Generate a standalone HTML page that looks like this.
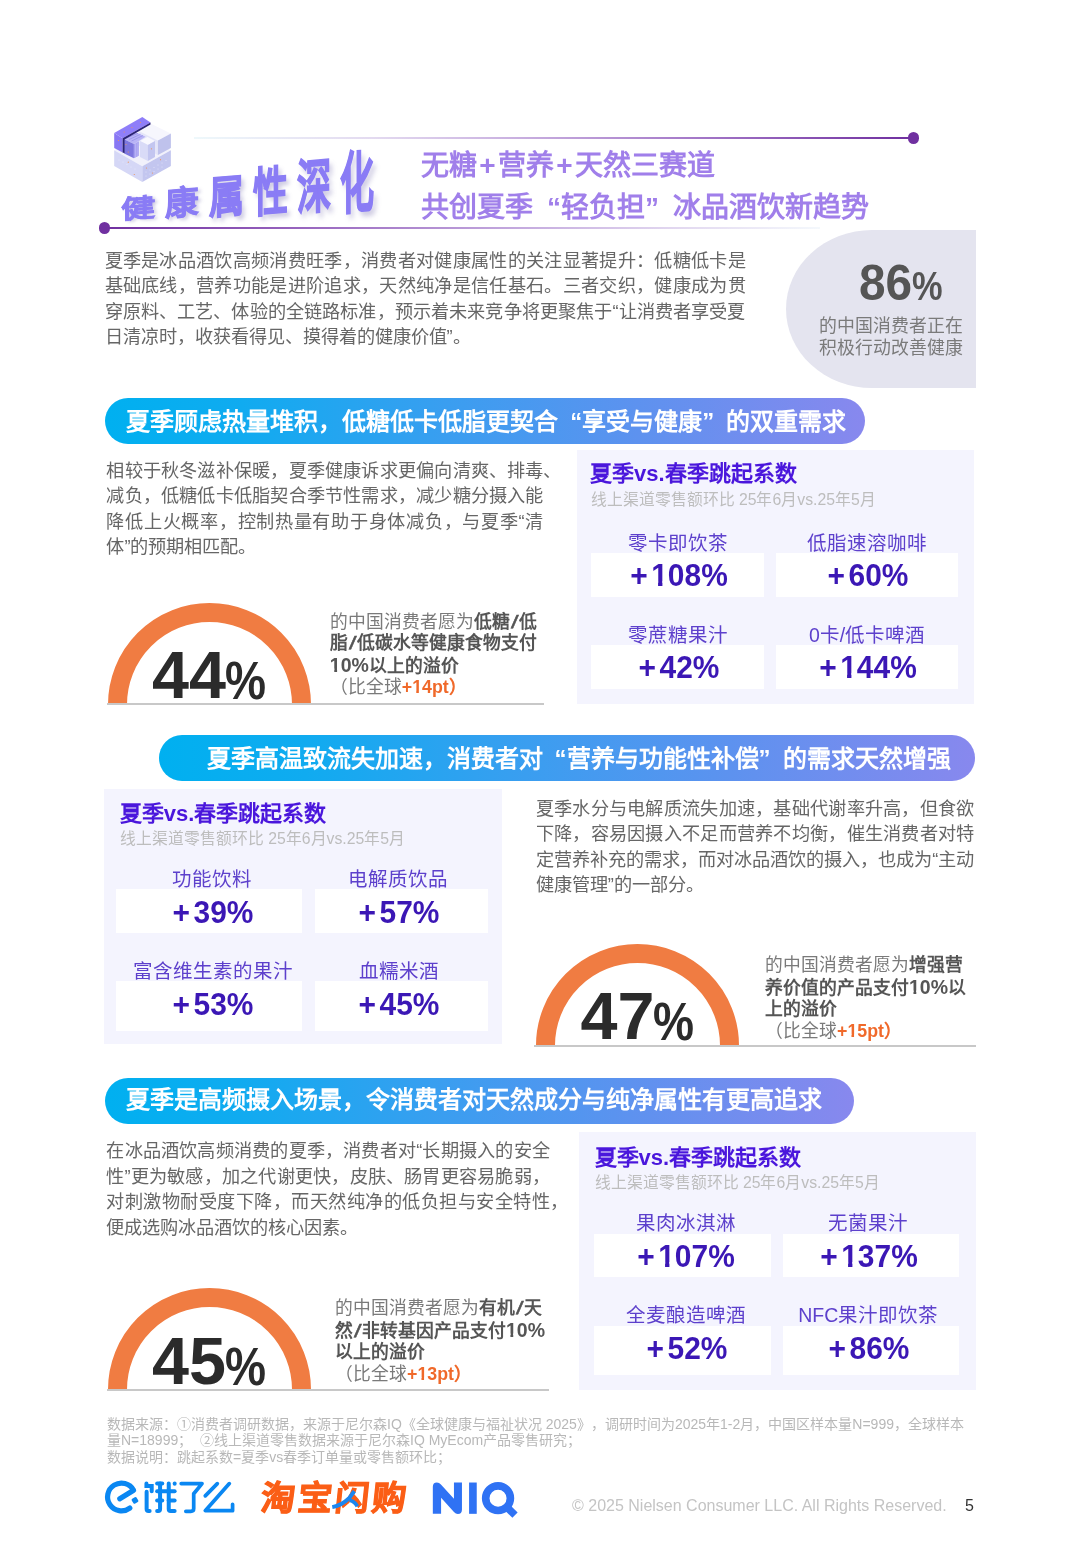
<!DOCTYPE html>
<html lang="zh-CN">
<head>
<meta charset="utf-8">
<style>
*{margin:0;padding:0;box-sizing:border-box}
html,body{width:1080px;height:1560px;background:#fff;overflow:hidden}
body{position:relative;font-family:"Liberation Sans",sans-serif;color:#5a5a5a;text-spacing-trim:space-all;will-change:transform}
.a{position:absolute;white-space:nowrap}
.p{position:absolute;font-size:18.2px;line-height:25.5px;color:#666}
.p div{white-space:nowrap;text-align:justify;text-align-last:justify}
.p div.l{text-align-last:left}
.p div.h{position:relative}
.hang{position:absolute;left:100%;top:0}
.bar{position:absolute;height:46px;border-radius:23px;background:linear-gradient(90deg,#00b0f0 0%,#10abf0 18%,#3a9ef0 45%,#5d92ef 70%,#8888ee 100%)}
.bar>span{position:absolute;top:0;font-size:24px;line-height:46px;font-weight:bold;color:#fff;white-space:nowrap}
.q{display:inline-block;width:1em}
.ql{text-align:right}
.qr{text-align:left}
.panel{position:absolute;background:#f4f4fe}
.pt{position:absolute;font-size:22px;line-height:22px;font-weight:bold;color:#4a16dc;white-space:nowrap}
.ps{position:absolute;font-size:15.8px;line-height:16px;color:#bdbdbd;white-space:nowrap}
.box{position:absolute;background:#fff}
.lab{position:absolute;font-size:19.5px;line-height:20px;color:#5d40cc;white-space:nowrap;text-align:center;width:240px}
.val{position:absolute;font-size:31.5px;line-height:30px;font-weight:bold;color:#3b17b5;white-space:nowrap;text-align:center;width:240px;transform:scaleX(.95)}
.gauge{position:absolute;width:203px;height:102px;overflow:hidden}
.gauge div{position:absolute;left:0;top:0;width:203px;height:203px;border-radius:50%;border:19.5px solid #f07c42}
.gnum{position:absolute;font-weight:bold;color:#2b2b2b;white-space:nowrap;font-size:66.5px;line-height:64px}
.gnum span{display:inline-block;font-size:53px;transform:scaleX(.87);transform-origin:0 100%;margin-left:-1px;vertical-align:-1px}
.gt{position:absolute;font-size:17.8px;line-height:21.6px;color:#7a7a7a;white-space:nowrap}
.gt b{color:#555;font-weight:bold}
.gt i{font-style:normal;color:#f0692a;font-weight:bold}
.hl{position:absolute;height:2px;background:#c8c8c8}
.pl{margin-right:3.7px}
.sl{display:inline-block;margin:0 2px;transform:skewX(-14deg);-webkit-text-stroke:0.5px #555}
.d{font-size:19.5px}
.one{display:inline-block;line-height:1em;clip-path:polygon(-0.1em -0.5em,0.7em -0.5em,0.7em 0.66em,0.374em 0.66em,0.374em 1.2em,0.229em 1.2em,0.229em 0.66em,-0.1em 0.66em)}
</style>
</head>
<body>

<!-- ===== HEADER ===== -->
<!-- top line -->
<div class="a" style="left:194px;top:137.2px;width:716px;height:2px;background:linear-gradient(90deg,#eef8fb 0%,#e3daf0 25%,#c9b0e0 45%,#a478c8 70%,#7030a0 100%)"></div>
<div class="a" style="left:907.8px;top:132.4px;width:11.6px;height:11.6px;border-radius:50%;background:#7030a0"></div>
<!-- bottom line -->
<div class="a" style="left:104px;top:227.2px;width:716px;height:2px;background:linear-gradient(90deg,#7030a0 0%,#9460bc 25%,#c0a4dc 55%,#e2d8f0 80%,#f4f8fc 100%)"></div>
<div class="a" style="left:98.8px;top:222.4px;width:11.6px;height:11.6px;border-radius:50%;background:#7030a0"></div>

<!-- cube icon -->
<svg class="a" style="left:108px;top:112px" width="70" height="75" viewBox="108 112 70 75">
  <polygon points="114.2,150.2 142.3,134.1 170.9,150.2 142.3,166.3" fill="#f1f1fb"/>
  <polygon points="114.2,150.2 142.3,166.3 142.3,182 114.2,166" fill="#d5d7f6"/>
  <polygon points="142.3,166.3 170.9,150.2 170.9,166 142.3,182" fill="#c3c6ef"/>
  <g fill="#eef0fd" opacity="0.8">
    <circle cx="119" cy="160" r="0.5"/><circle cx="123" cy="162" r="0.5"/><circle cx="127" cy="164.5" r="0.5"/><circle cx="131" cy="167" r="0.5"/><circle cx="135" cy="169" r="0.5"/>
    <circle cx="146" cy="172" r="0.5"/><circle cx="150" cy="170" r="0.5"/><circle cx="154" cy="167.5" r="0.5"/><circle cx="158" cy="165" r="0.5"/><circle cx="162" cy="163" r="0.5"/><circle cx="166" cy="160.5" r="0.5"/>
    <circle cx="146" cy="176" r="0.5"/><circle cx="150" cy="174" r="0.5"/><circle cx="154" cy="171.5" r="0.5"/><circle cx="158" cy="169" r="0.5"/><circle cx="162" cy="167" r="0.5"/>
  </g>
  <polygon points="138.5,130.8 150.4,123.5 170.9,133.4 157.9,140.5" fill="#f6f6fd"/>
  <polygon points="138.5,130.8 157.9,140.5 157.9,155.1 138.5,145.4" fill="#e4e5f9"/>
  <polygon points="157.9,140.5 170.9,133.4 170.9,148 157.9,155.1" fill="#bfc2ec"/>
  <polygon points="140,141 147.5,137 155,141 147.9,145" fill="#f8f8fe"/>
  <polygon points="140,141 147.9,145 147.9,161 140,157" fill="#d9dbf7"/>
  <polygon points="147.9,145 155,141 155,157 147.9,161" fill="#c3c6f0"/>
  <polygon points="124.2,139.2 136.5,132.5 145.6,136.8 133.9,144" fill="#b9b4f6"/>
  <g stroke="#8d86e6" stroke-width="0.6"><line x1="126.5" y1="138" x2="138" y2="133.3"/><line x1="129" y1="139.5" x2="140.5" y2="134.3"/><line x1="131.5" y1="141" x2="143" y2="135.5"/></g>
  <polygon points="124.2,139.2 133.9,144 133.9,158.3 124.2,153.5" fill="#7e77df"/>
  <polygon points="133.9,144 138.8,141.3 138.8,155.8 133.9,158.3" fill="#a49ef0"/>
  <g stroke="#c9c5f8" stroke-width="0.5"><line x1="135.5" y1="143" x2="135.5" y2="157.5"/><line x1="137.2" y1="142.2" x2="137.2" y2="156.7"/></g>
  <polygon points="114.2,133.1 122.6,138.2 122.6,152.5 114.2,148" fill="#8877f3"/>
  <polygon points="114.2,133.1 142.3,116.9 150.5,122.4 122.6,138.2" fill="#8f7ef9"/>
  <polygon points="122.6,138.2 150.5,122.4 150.5,124.6 124.6,139.4 124.6,153.3 122.6,152.5" fill="#2b2377"/>
  <g fill="#f0955a"><circle cx="118.5" cy="140.5" r="0.6"/><circle cx="124.2" cy="132" r="0.6"/><circle cx="132" cy="127.5" r="0.6"/><circle cx="140.5" cy="122.5" r="0.6"/><circle cx="126" cy="144.5" r="0.6"/><circle cx="128.3" cy="152" r="0.6"/><circle cx="151.5" cy="148.8" r="0.6"/><circle cx="128.3" cy="162.2" r="0.6"/><circle cx="160.5" cy="159.7" r="0.6"/><circle cx="146.5" cy="168" r="0.6"/><circle cx="152.5" cy="173" r="0.6"/><circle cx="134.3" cy="174.5" r="0.6"/></g>
</svg>

<!-- big title chars -->
<div id="bigtitle">
<span class="a bt" style="left:120.8px;top:196.5px;transform:skewY(-5deg) scale(0.924,0.695)">健</span>
<span class="a bt" style="left:165.0px;top:188.3px;transform:skewY(-5deg) scale(0.908,0.897)">康</span>
<span class="a bt" style="left:209.4px;top:177.3px;transform:skewY(-5deg) scale(0.95,1.199)">属</span>
<span class="a bt" style="left:252.5px;top:168.1px;transform:skewY(-5deg) scale(0.94,1.42)">性</span>
<span class="a bt" style="left:297.3px;top:159.7px;transform:skewY(-5deg) scale(0.919,1.593)">深</span>
<span class="a bt" style="left:340.1px;top:151.8px;transform:skewY(-5deg) scale(0.918,1.796)">化</span>
</div>
<style>.bt{font-size:37px;line-height:37px;transform-origin:0 0;font-weight:bold;color:#8a7cf5;-webkit-text-stroke:0.9px #8a7cf5;text-shadow:3px 3px 4px rgba(110,100,170,0.35)}</style>

<!-- headline right -->
<div class="a" style="left:421px;top:149px;font-size:28px;line-height:34px;font-weight:bold;color:#a07fea">无糖<span style="display:inline-block;width:21px;text-align:center">+</span>营养<span style="display:inline-block;width:21px;text-align:center">+</span>天然三赛道</div>
<div class="a" style="left:421px;top:191px;font-size:28px;line-height:34px;font-weight:bold;color:#a07fea">共创夏季<span class="q ql">“</span>轻负担<span class="q qr">”</span>冰品酒饮新趋势</div>

<!-- intro paragraph -->
<div class="p" style="left:104.5px;top:248.5px;width:641px">
<div>夏季是冰品酒饮高频消费旺季，消费者对健康属性的关注显著提升：低糖低卡是</div>
<div>基础底线，营养功能是进阶追求，天然纯净是信任基石。三者交织，健康成为贯</div>
<div>穿原料、工艺、体验的全链路标准，预示着未来竞争将更聚焦于“让消费者享受夏</div>
<div class="l">日清凉时，收获看得见、摸得着的健康价值”。</div>
</div>

<!-- 86% shape -->
<div class="a" style="left:786px;top:229.5px;width:190px;height:158.5px;background:#e4e4ef;border-radius:86px 0 0 86px / 79px 0 0 79px"></div>
<div class="a" style="left:858.5px;top:258px;font-size:49.5px;line-height:50px;font-weight:bold;color:#555"><span style="display:inline-block;transform:scaleX(.965);transform-origin:0 100%">86</span><span style="display:inline-block;font-size:40px;transform:scaleX(.86);transform-origin:0 100%;margin-left:-2px">%</span></div>
<div class="a" style="left:819px;top:315px;font-size:17.9px;line-height:22.2px;color:#7a7a7a">的中国消费者正在<br>积极行动改善健康</div>

<!-- ===== SECTION 1 ===== -->
<div class="bar" style="left:105.2px;top:397.8px;width:759.8px"><span style="left:21.1px;top:1.1px">夏季顾虑热量堆积，低糖低卡低脂更契合<span class="q ql">“</span>享受与健康<span class="q qr">”</span>的双重需求</span></div>

<div class="p" style="left:106.4px;top:458.5px;width:437px">
<div class="h">相较于秋冬滋补保暖，夏季健康诉求更偏向清爽、排毒<span class="hang">、</span></div>
<div>减负，低糖低卡低脂契合季节性需求，减少糖分摄入能</div>
<div>降低上火概率，控制热量有助于身体减负，与夏季“清</div>
<div class="l">体”的预期相匹配。</div>
</div>

<div class="gauge" style="left:107.6px;top:602.5px"><div></div></div>
<div class="gnum" style="left:152px;top:642.5px">44<span>%</span></div>
<div class="hl" style="left:107px;top:703px;width:437px"></div>
<div class="gt" style="left:329.8px;top:611.5px">的中国消费者愿为<b>低糖<span class="sl">/</span>低</b><br><b>脂<span class="sl">/</span>低碳水等健康食物支付</b><br><b><span class="d"><span class="one">1</span>0%</span>以上的溢价</b><br>（比全球<i>+<span class="one">1</span>4pt）</i></div>

<div class="panel" style="left:576.5px;top:449.7px;width:397px;height:254.3px"></div>
<div class="pt" style="left:590px;top:463.3px">夏季vs.春季跳起系数</div>
<div class="ps" style="left:590.5px;top:491.5px">线上渠道零售额环比 25年6月vs.25年5月</div>
<div class="box" style="left:591px;top:553.2px;width:173px;height:44.3px"></div>
<div class="box" style="left:776.3px;top:553.2px;width:181.3px;height:44.3px"></div>
<div class="box" style="left:591px;top:644.8px;width:173px;height:44px"></div>
<div class="box" style="left:776.3px;top:644.8px;width:181.3px;height:44px"></div>

<!-- ===== SECTION 2 ===== -->
<div class="bar" style="left:158.5px;top:734.5px;width:816.5px"><span style="left:48.1px;top:1.1px">夏季高温致流失加速，消费者对<span class="q ql">“</span>营养与功能性补偿<span class="q qr">”</span>的需求天然增强</span></div>

<div class="panel" style="left:104.2px;top:789.4px;width:397.7px;height:254.5px"></div>
<div class="pt" style="left:119.8px;top:802.7px">夏季vs.春季跳起系数</div>
<div class="ps" style="left:119.8px;top:830.8px">线上渠道零售额环比 25年6月vs.25年5月</div>
<div class="box" style="left:115.9px;top:889.2px;width:186.6px;height:44px"></div>
<div class="box" style="left:314.9px;top:889.2px;width:172.7px;height:44px"></div>
<div class="box" style="left:115.9px;top:981.2px;width:186.6px;height:50.3px"></div>
<div class="box" style="left:314.9px;top:981.2px;width:172.7px;height:50.3px"></div>

<div class="p" style="left:535.8px;top:796.5px;width:438.5px">
<div>夏季水分与电解质流失加速，基础代谢率升高，但食欲</div>
<div>下降，容易因摄入不足而营养不均衡，催生消费者对特</div>
<div>定营养补充的需求，而对冰品酒饮的摄入，也成为“主动</div>
<div class="l">健康管理”的一部分。</div>
</div>

<div class="gauge" style="left:536px;top:943.5px"><div></div></div>
<div class="gnum" style="left:580.5px;top:984px">47<span>%</span></div>
<div class="hl" style="left:534px;top:1044.6px;width:441.6px"></div>
<div class="gt" style="left:765px;top:955px">的中国消费者愿为<b>增强营</b><br><b>养价值的产品支付<span class="d"><span class="one">1</span>0%</span>以</b><br><b>上的溢价</b><br>（比全球<i>+<span class="one">1</span>5pt）</i></div>

<!-- ===== SECTION 3 ===== -->
<div class="bar" style="left:105.2px;top:1077.5px;width:748.6px"><span style="left:21.1px;top:-0.3px">夏季是高频摄入场景，令消费者对天然成分与纯净属性有更高追求</span></div>

<div class="p" style="left:106.3px;top:1139px;width:443.5px">
<div>在冰品酒饮高频消费的夏季，消费者对“长期摄入的安全</div>
<div>性”更为敏感，加之代谢更快，皮肤、肠胃更容易脆弱，</div>
<div class="h">对刺激物耐受度下降，而天然纯净的低负担与安全特性<span class="hang">，</span></div>
<div class="l">便成选购冰品酒饮的核心因素。</div>
</div>

<div class="gauge" style="left:107.6px;top:1288px"><div></div></div>
<div class="gnum" style="left:152px;top:1329px">45<span>%</span></div>
<div class="hl" style="left:107px;top:1389px;width:442px"></div>
<div class="gt" style="left:335px;top:1298px">的中国消费者愿为<b>有机<span class="sl">/</span>天</b><br><b>然<span class="sl">/</span>非转基因产品支付<span class="d"><span class="one">1</span>0%</span></b><br><b>以上的溢价</b><br>（比全球<i>+<span class="one">1</span>3pt）</i></div>

<div class="panel" style="left:579.1px;top:1131.5px;width:397.1px;height:258.3px"></div>
<div class="pt" style="left:594.6px;top:1146.8px">夏季vs.春季跳起系数</div>
<div class="ps" style="left:594.5px;top:1174.6px">线上渠道零售额环比 25年6月vs.25年5月</div>
<div class="box" style="left:594px;top:1233.6px;width:176.6px;height:43.8px"></div>
<div class="box" style="left:782.8px;top:1233.6px;width:176.2px;height:43.8px"></div>
<div class="box" style="left:594px;top:1325.7px;width:176.6px;height:49.5px"></div>
<div class="box" style="left:782.8px;top:1325.7px;width:176.2px;height:49.5px"></div>

<div class="lab" style="left:557.7px;top:532.5px">零卡即饮茶</div>
<div class="val" style="left:558.8px;top:560.4px"><span class="pl">+</span><span class="one">1</span>08%</div>
<div class="lab" style="left:747.0px;top:532.5px">低脂速溶咖啡</div>
<div class="val" style="left:748.0px;top:560.4px"><span class="pl">+</span>60%</div>
<div class="lab" style="left:557.6px;top:624.8px">零蔗糖果汁</div>
<div class="val" style="left:559.0px;top:652.4px"><span class="pl">+</span>42%</div>
<div class="lab" style="left:747.1px;top:624.8px">0卡/低卡啤酒</div>
<div class="val" style="left:748.3px;top:652.4px"><span class="pl">+</span><span class="one">1</span>44%</div>
<div class="lab" style="left:92.4px;top:869.1px">功能饮料</div>
<div class="val" style="left:93.2px;top:897.2px"><span class="pl">+</span>39%</div>
<div class="lab" style="left:278.2px;top:869.1px">电解质饮品</div>
<div class="val" style="left:279.3px;top:897.2px"><span class="pl">+</span>57%</div>
<div class="lab" style="left:92.5px;top:960.9px">富含维生素的果汁</div>
<div class="val" style="left:93.0px;top:989.0px"><span class="pl">+</span>53%</div>
<div class="lab" style="left:278.5px;top:960.9px">血糯米酒</div>
<div class="val" style="left:279.3px;top:989.0px"><span class="pl">+</span>45%</div>
<div class="lab" style="left:565.5px;top:1213.1px">果肉冰淇淋</div>
<div class="val" style="left:566.3px;top:1241.2px"><span class="pl">+</span><span class="one">1</span>07%</div>
<div class="lab" style="left:747.5px;top:1213.1px">无菌果汁</div>
<div class="val" style="left:748.8px;top:1241.2px"><span class="pl">+</span><span class="one">1</span>37%</div>
<div class="lab" style="left:565.7px;top:1304.8px">全麦酿造啤酒</div>
<div class="val" style="left:566.7px;top:1332.9px"><span class="pl">+</span>52%</div>
<div class="lab" style="left:748.2px;top:1304.8px">NFC果汁即饮茶</div>
<div class="val" style="left:748.8px;top:1332.9px"><span class="pl">+</span>86%</div>

<!-- ===== FOOTER ===== -->
<div class="a" style="left:107px;top:1416px;font-size:14px;line-height:16.4px;color:#b8b8b8"><div style="width:857px;text-align-last:justify">数据来源：①消费者调研数据，来源于尼尔森IQ《全球健康与福祉状况 2025》，调研时间为2025年1-2月，中国区样本量N=999，全球样本</div>量N=18999；&nbsp; ②线上渠道零售数据来源于尼尔森IQ MyEcom产品零售研究；<br>数据说明：跳起系数=夏季vs春季订单量或零售额环比；</div>

<!-- logos -->
<svg class="a" style="left:100px;top:1470px" width="145" height="50" viewBox="100 1470 145 50">
  <g fill="none" stroke="#0a87f2" stroke-linecap="round" stroke-linejoin="round">
    <path d="M129.8,1508.1 A13.9,13.9 0 1 1 133.6,1490.2 L119.8,1498.8" stroke-width="5.2"/>
  </g>
  <rect x="132.2" y="1497.6" width="5.6" height="5.6" rx="1.3" transform="rotate(-33 135 1500.4)" fill="#0a87f2"/>
  <g transform="translate(142,1478) scale(0.037037)" fill="none" stroke="#0a87f2" stroke-width="108" stroke-linecap="round" stroke-linejoin="miter">
    <path d="M120,149 V213 H262 V356"/>
    <path d="M125,369 V840 Q125,891 176,891 H206"/>
    <path d="M409,150 H546"/>
    <path d="M488,150 V840 Q488,892 436,892 H409"/>
    <path d="M409,360 H881"/>
    <path d="M409,610 H546"/>
    <path d="M722,149 V840 Q722,892 774,892 H881"/>
    <path d="M722,610 H881"/>
    <path d="M882,149 V153"/>
  </g>
  <g transform="translate(140,1476) scale(0.092593)" fill="none" stroke="#0a87f2" stroke-width="40" stroke-linecap="round" stroke-linejoin="round">
    <path d="M445,82 H670 L580,192 V352 Q580,382 550,382 H495"/>
    <path d="M835,82 L705,215"/>
    <path d="M965,82 L705,375 H1000 V305"/>
  </g>
</svg>
<div class="a" style="left:259px;top:1479px;font-size:34px;line-height:38px;font-weight:bold;color:#fb5e16;-webkit-text-stroke:1.1px #fb5e16;letter-spacing:3px;transform:skewX(-6deg);transform-origin:0 100%">淘宝闪购</div>
<svg class="a" style="left:330px;top:1476px" width="82" height="42" viewBox="0 0 1080 553">
  <path d="M30,410 Q150,390 255,290 L320,200" fill="none" stroke="#1a86f0" stroke-width="52" stroke-linecap="butt"/>
  <path d="M260,320 Q330,340 360,400" fill="none" stroke="#1a86f0" stroke-width="48" stroke-linecap="butt"/>
</svg>
<svg class="a" style="left:428px;top:1476px" width="94" height="44" viewBox="0 0 1080 506">
  <g fill="#2f72f4">
    <path d="M55,125 Q55,75 102,75 Q128,75 148,97 L298,262 V75 H390 V388 Q390,437 343,437 Q318,437 298,415 L150,250 V435 H55 Z"/>
    <rect x="472" y="75" width="88" height="360"/>
  </g>
  <circle cx="805" cy="255" r="142" fill="none" stroke="#2f72f4" stroke-width="88"/>
  <path d="M893,345 L1000,450" stroke="#2f72f4" stroke-width="86" fill="none"/>
</svg>

<div class="a" style="left:572px;top:1496px;font-size:16px;line-height:20px;color:#c4c4c4">© 2025 Nielsen Consumer LLC. All Rights Reserved.</div>
<div class="a" style="left:965px;top:1496px;font-size:16px;line-height:20px;color:#333">5</div>

</body>
</html>
